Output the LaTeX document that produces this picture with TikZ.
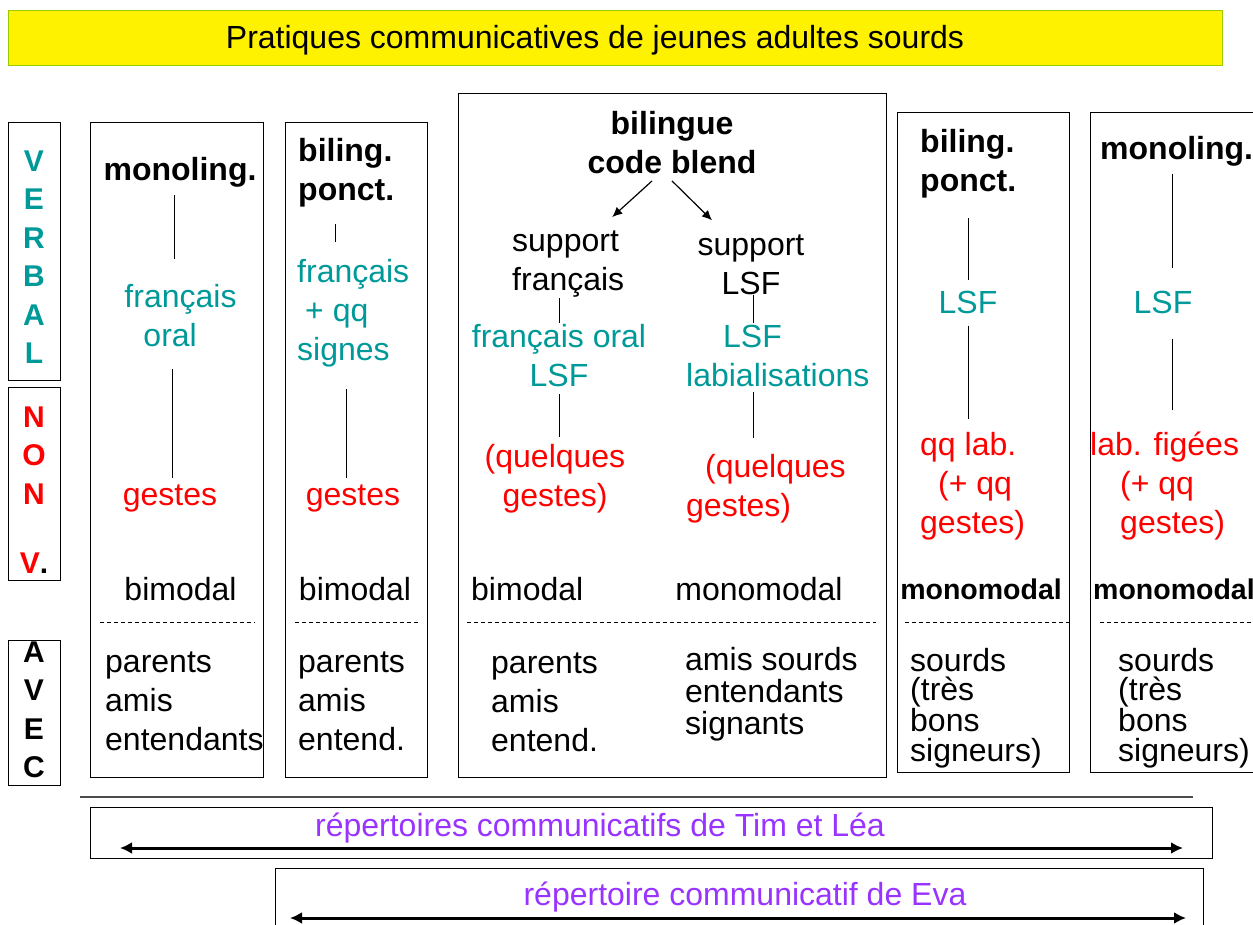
\documentclass[tikz,border=0pt]{standalone}
\usepackage{fontspec}
\setmainfont{Liberation Sans}
\usepackage{xcolor}
\usepackage{tikz}
\usetikzlibrary{arrows.meta,calc}

\definecolor{vteal}{RGB}{0,153,153}
\definecolor{nvred}{RGB}{255,0,0}
\definecolor{repviolet}{RGB}{153,51,255}
\definecolor{titlegreen}{RGB}{153,204,0}

\begin{document}
\begin{tikzpicture}[x=1bp, y=-1bp,
    txt/.style={inner sep=0pt, font=\fontsize{32bp}{39bp}\selectfont},
    head/.style={txt, font=\fontsize{32bp}{39bp}\selectfont\bfseries},
    modal/.style={txt, font=\fontsize{28.5bp}{34bp}\selectfont\bfseries},
    verb/.style={txt, text=vteal},
    nonv/.style={txt, text=nvred},
    letters/.style={align=center, inner sep=0pt, font=\fontsize{30bp}{38.5bp}\selectfont\bfseries},
    frame/.style={draw, line width=0.9bp},
    link/.style={line width=0.8bp},
    dashsep/.style={line width=0.7bp, dash pattern=on 4bp off 3bp},
    fork/.style={-{Latex[length=10bp,width=9bp]}, line width=1.2bp},
    spanarrow/.style={{Latex[length=12bp,width=12bp]}-{Latex[length=12bp,width=12bp]}, line width=3bp}]
      \useasboundingbox (0,0) rectangle (1253,925);
      \clip (0,0) rectangle (1253,925);

      % Title
      \draw[fill=yellow, draw=titlegreen, line width=1bp] (8,10) rectangle (1222,65);
      \node[txt] (title) at (595,40) {Pratiques communicatives de jeunes adultes sourds};

      % Side labels
      \draw[frame] (8,122) rectangle (60,380);
      \draw[frame] (8,387) rectangle (60,580);
      \draw[frame] (8,640) rectangle (60,785);
      \node[letters, text=vteal] (verbal) at (34,257) {V\\E\\R\\B\\A\\L};
      \node[letters, text=nvred] (nonverbal) at (34,490) {N\\O\\N\\[31bp]V\textcolor{black}{.}};
      \node[letters] (avec) at (34,710) {A\\V\\E\\C};

      % Column frames
      \draw[frame] (90,122) rectangle (263,777);
      \draw[frame] (285,122) rectangle (427,777);
      \draw[frame] (458,93) rectangle (886,777);
      \draw[frame] (897,112) rectangle (1069,772);
      \draw[frame] (1090,112) rectangle (1275,772);

      % Column 1
      \node[head] (mono1) at (180,172) {monoling.};
      \node[verb, align=left] (fr1) at (180.5,315.5) {français\\\hspace*{19bp}oral};
      \node[nonv] (ges1) at (170,498) {gestes};
      \node[txt] (bim1) at (180.5,589) {bimodal};
      \node[txt, align=left, anchor=west] (who1) at (105,701) {parents\\amis\\entendants};
      \draw[link] ([xshift=-6bp,yshift=-8bp]mono1.south) -- ([xshift=-6bp,yshift=25bp]mono1.south |- fr1.north);
      \draw[link] ([xshift=-8.5bp,yshift=-22bp]fr1.south) -- ([xshift=-8.5bp,yshift=6bp]fr1.south |- ges1.north);
      \draw[dashsep] (100,622) -- (255,622);

      % Column 2
      \node[head, align=left, anchor=west] (bp2) at (298,173) {biling.\\ponct.};
      \node[verb, align=left, anchor=west] (fr2) at (297,313) {français\\\hspace*{8bp}+ qq\\signes};
      \node[nonv] (ges2) at (353,498) {gestes};
      \node[txt] (bim2) at (355,589) {bimodal};
      \node[txt, align=left, anchor=west] (who2) at (298,701) {parents\\amis\\entend.};
      \draw[link] ([yshift=-16bp]bp2.south -| 335,0) -- ([yshift=17bp]fr2.north -| 335,0);
      \draw[link] ([yshift=-22bp]fr2.south -| 346,0) -- ([yshift=6bp]ges2.north -| 346,0);
      \draw[dashsep] (295,622) -- (420,622);

      % Column 3
      \node[head, align=center] (blend) at (672,142.5) {bilingue\\code blend};
      \node[txt, align=left, anchor=west] (supfr) at (512,264.5) {support\\français};
      \node[txt, align=center] (suplsf) at (751,264.5) {support\\LSF};
      \node[verb, align=center] (fro3) at (559,356) {français oral\\LSF};
      \node[verb, align=left, anchor=west] (lab3) at (686,356) {\hspace*{37bp}LSF\\labialisations};
      \node[nonv, align=center] (qg3a) at (555,478.5) {(quelques\\gestes)};
      \node[nonv, align=left, anchor=west] (qg3b) at (686,488.5) {\hspace*{19bp}(quelques\\gestes)};
      \node[txt, anchor=west] (bim3) at (471,589) {bimodal};
      \node[txt] (mono3) at (759,589) {monomodal};
      \node[txt, align=left, anchor=west] (who3a) at (491,702) {parents\\amis\\entend.};
      \node[txt, align=left, anchor=west, font=\fontsize{32bp}{32bp}\selectfont] (who3b) at (685,694) {amis sourds\\entendants\\signants};
      \draw[fork] ([xshift=-20bp,yshift=-7bp]blend.south) -- ([xshift=44bp,yshift=14bp]supfr.north);
      \draw[fork] ([xshift=0bp,yshift=-7bp]blend.south) -- ([xshift=-39bp,yshift=14bp]suplsf.north);
      \draw[link] (supfr.south -| fro3.north) -- ([yshift=2bp]fro3.north);
      \draw[link] (suplsf.south -| 753,0) -- ([yshift=2bp]lab3.north -| 753,0);
      \draw[link] ([yshift=-7bp]fro3.south) -- ([yshift=7bp]fro3.south |- qg3a.north);
      \draw[link] ([yshift=-5bp]lab3.south -| 753,0) -- ([yshift=16bp]qg3b.north -| 753,0);
      \draw[dashsep] (467,622) -- (876,622);

      % Column 4
      \node[head, align=left, anchor=west] (bp4) at (920,163.5) {biling.\\ponct.};
      \node[verb] (lsf4) at (968,302) {LSF};
      \node[nonv, align=left, anchor=west] (lab4) at (920,486) {qq lab.\\\hspace*{18bp}(+ qq\\gestes)};
      \node[modal] (mm4) at (981,589) {monomodal};
      \node[txt, align=left, anchor=west, font=\fontsize{32bp}{29.7bp}\selectfont] (who4) at (910,708) {sourds\\(très\\bons\\signeurs)};
      \draw[link] ([yshift=-20bp]bp4.south -| lsf4.north) -- ([yshift=10bp]lsf4.north);
      \draw[link] ([yshift=-12bp]lsf4.south) -- ([yshift=13bp]lsf4.south |- lab4.north);
      \draw[dashsep] (905,622) -- (1069,622);

      % Column 5
      \node[head, anchor=west] (mono5) at (1100,151) {monoling.};
      \node[verb] (lsf5) at (1163,302) {LSF};
      \node[nonv, align=left, anchor=west] (lab5) at (1090,486) {lab. figées\\\hspace*{30bp}(+ qq\\\hspace*{30bp}gestes)};
      \node[modal, anchor=west] (mm5) at (1093,589) {monomodal};
      \node[txt, align=left, anchor=west, font=\fontsize{32bp}{29.7bp}\selectfont] (who5) at (1118,708) {sourds\\(très\\bons\\signeurs)};
      \draw[link] ([xshift=9bp]lsf5.north |- mono5.south) ++(0,8) -- ([xshift=9bp,yshift=22bp]lsf5.north);
      \draw[link] ([xshift=9bp,yshift=-25bp]lsf5.south) -- ([xshift=9bp,yshift=22bp]lsf5.south |- lab5.north);
      \draw[dashsep] (1100,622) -- (1253,622);

      % Repertoires
      \draw[line width=1.2bp, draw=black!70] (80,797) -- (1193,797);
      \draw[frame] (90,807) rectangle (1212,858);
      \node[txt, text=repviolet] (timlea) at (600,828) {répertoires communicatifs de Tim et Léa};
      \coordinate (timL) at (120,848);
      \coordinate (timR) at (1183,848);
      \draw[spanarrow] (timL) -- (timR);

      \draw[frame] (275,868) rectangle (1203,940);
      \node[txt, text=repviolet] (eva) at (745,897) {répertoire communicatif de Eva};
      \coordinate (evaL) at (290,918);
      \coordinate (evaR) at (1186,918);
      \draw[spanarrow] (evaL) -- (evaR);
    \end{tikzpicture}
\end{document}
